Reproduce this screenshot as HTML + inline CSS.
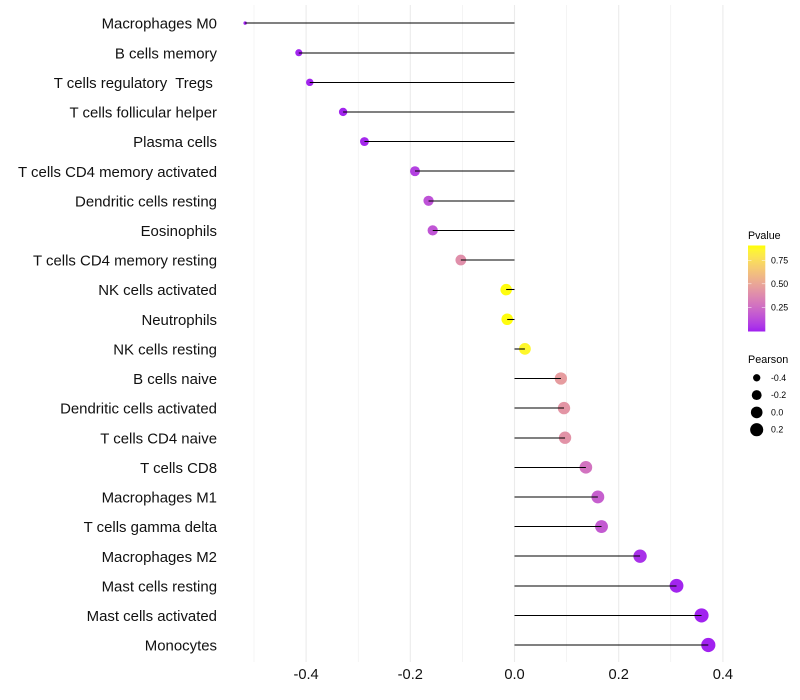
<!DOCTYPE html>
<html>
<head>
<meta charset="utf-8">
<title>Immune cell correlation lollipop chart</title>
<style>
html,body{margin:0;padding:0;background:#fff;}
svg{display:block;font-family:"Liberation Sans",sans-serif;}
text{white-space:pre;}
</style>
</head>
<body>
<svg id="chart" width="800" height="700" viewBox="0 0 800 700" xmlns="http://www.w3.org/2000/svg">
<defs><linearGradient id="pgrad" x1="0" y1="1" x2="0" y2="0"></linearGradient></defs>
<rect width="800" height="700" fill="#fff"></rect>
</svg>
<script>
const categories = ["Macrophages M0","B cells memory","T cells regulatory  Tregs ","T cells follicular helper","Plasma cells","T cells CD4 memory activated","Dendritic cells resting","Eosinophils","T cells CD4 memory resting","NK cells activated","Neutrophils","NK cells resting","B cells naive","Dendritic cells activated","T cells CD4 naive","T cells CD8","Macrophages M1","T cells gamma delta","Macrophages M2","Mast cells resting","Mast cells activated","Monocytes"];
const pearson = [-0.517,-0.414,-0.393,-0.329,-0.288,-0.191,-0.165,-0.157,-0.103,-0.016,-0.014,0.02,0.089,0.095,0.097,0.137,0.16,0.167,0.241,0.311,0.359,0.372];
const pvalue = [0,0.01,0.01,0.01,0.02,0.09,0.15,0.16,0.4,0.9,0.9,0.87,0.46,0.43,0.42,0.28,0.2,0.18,0.04,0.01,0.005,0.005];
const xMajorTicks = [-0.4,-0.2,0,0.2,0.4];
const xMajorLabels = ["-0.4","-0.2","0.0","0.2","0.4"];
const xMinorTicks = [-0.5,-0.3,-0.1,0.1,0.3];
const colorTicks = [0.25,0.5,0.75];
const colorLabels = ["0.25","0.50","0.75"];
const sizeBreaks = [-0.4,-0.2,0,0.2];
const sizeLabels = ["-0.4","-0.2","0.0","0.2"];

const svg = document.getElementById('chart');
const NS = 'http://www.w3.org/2000/svg';
function mk(tag, attrs, parent){
  const el = document.createElementNS(NS, tag);
  for (const k in attrs) el.setAttribute(k, attrs[k]);
  (parent || svg).appendChild(el);
  return el;
}
// axis functions
const xScale = v => 514.5 + v * 521;
const yScale = i => 23.1 + i * 29.615;
// device-style line snapping: stems land on a whole or half pixel
function snapY(y){
  const base = Math.floor(y), frac = y - base;
  if (frac >= 0.25 && frac < 0.68) return base + 0.5;
  return Math.round(y);
}
const pMin = 0, pMax = 0.907;
const colorY = p => 330.8 - (p - pMin) * 94;
const sMin = -0.517, sMax = 0.372;
const sizeScale = v => 1.7 + 5.4 * Math.sqrt(Math.max(0, (v - sMin) / (sMax - sMin)));

// Lab colour interpolation purple -> yellow
function toLab(r,g,b){
  const f = c => { c/=255; return c<=0.04045 ? c/12.92 : Math.pow((c+0.055)/1.055,2.4); };
  const R=f(r),G=f(g),B=f(b);
  const X=(0.4124*R+0.3576*G+0.1805*B)/0.95047, Y=0.2126*R+0.7152*G+0.0722*B, Z=(0.0193*R+0.1192*G+0.9505*B)/1.08883;
  const h = t => t>0.008856 ? Math.cbrt(t) : 7.787*t+16/116;
  return [116*h(Y)-16, 500*(h(X)-h(Y)), 200*(h(Y)-h(Z))];
}
function fromLab(L,a,b){
  const y=(L+16)/116, x=a/500+y, z=y-b/200;
  const h = t => t*t*t>0.008856 ? t*t*t : (t-16/116)/7.787;
  const X=h(x)*0.95047, Y=h(y), Z=h(z)*1.08883;
  const g = c => { c=Math.max(0,Math.min(1,c)); return Math.round(255*(c<=0.0031308?12.92*c:1.055*Math.pow(c,1/2.4)-0.055)); };
  return 'rgb('+g(3.2406*X-1.5372*Y-0.4986*Z)+','+g(-0.9689*X+1.8758*Y+0.0415*Z)+','+g(0.0557*X-0.2040*Y+1.0570*Z)+')';
}
const labLow = toLab(160,32,240), labHigh = toLab(255,255,0);
function colorScale(p){
  const t = Math.max(0, Math.min(1, (p - pMin) / (pMax - pMin)));
  return fromLab(labLow[0]+(labHigh[0]-labLow[0])*t, labLow[1]+(labHigh[1]-labLow[1])*t, labLow[2]+(labHigh[2]-labLow[2])*t);
}

// grid
xMinorTicks.forEach(v => {
  const el = mk('line',{x1:xScale(v),x2:xScale(v),y1:5,y2:662,stroke:'#ebebeb','stroke-width':0.55});
  
  
});
xMajorTicks.forEach(v => {
  const el = mk('line',{x1:xScale(v),x2:xScale(v),y1:5,y2:662,stroke:'#ebebeb','stroke-width':1.07});
  
  
});

// y labels
categories.forEach((c,i) => {
  const el = mk('text',{x:217,y:yScale(i)+5.6,'text-anchor':'end','font-size':14.95,fill:'#111'});
  el.textContent = c;
  
  
});

// x labels
xMajorTicks.forEach((v,i) => {
  const el = mk('text',{x:xScale(v),y:679,'text-anchor':'middle','font-size':14.67,fill:'#111'});
  el.textContent = xMajorLabels[i];
  
  
});

// points, then stems on top
pearson.forEach((v,i) => {
  const el = mk('circle',{cx:xScale(v),cy:yScale(i),r:sizeScale(v),fill:colorScale(pvalue[i])});
  
  
});
pearson.forEach((v,i) => {
  const y = snapY(yScale(i));
  const el = mk('line',{x1:xScale(0),x2:xScale(v),y1:y,y2:y,stroke:'#000','stroke-width':1.07});
  
  
});

// colour legend
const grad = document.getElementById('pgrad');
for (let s = 0; s <= 20; s++){
  const t = s / 20;
  mk('stop',{offset:t,'stop-color':colorScale(pMin + t * (pMax - pMin))},grad);
}
const pTitle = mk('text',{x:748,y:239,'font-size':10.67,fill:'#000'});
pTitle.textContent = 'Pvalue';


const bar = mk('rect',{x:748,y:245.5,width:17.3,height:86,fill:'url(#pgrad)'});


colorTicks.forEach((p,i) => {
  const y = colorY(p);
  const a = mk('line',{x1:748,x2:751.5,y1:y,y2:y,stroke:'#fff','stroke-width':0.55,'stroke-opacity':0.9});
  
  
  const b = mk('line',{x1:761.8,x2:765.3,y1:y,y2:y,stroke:'#fff','stroke-width':0.55,'stroke-opacity':0.9});
  
  
  const t = mk('text',{x:771,y:y+3,'font-size':8.8,fill:'#000'});
  t.textContent = colorLabels[i];
  
  
});

// size legend
const sTitle = mk('text',{x:748,y:363,'font-size':10.8,fill:'#000'});
sTitle.textContent = 'Pearson';


sizeBreaks.forEach((v,i) => {
  const y = 377.8 + i * 17.3;
  const c = mk('circle',{cx:756.7,cy:y,r:sizeScale(v),fill:'#000'});
  
  
  const t = mk('text',{x:771,y:y+3,'font-size':8.8,fill:'#000'});
  t.textContent = sizeLabels[i];
  
  
});
</script>
</body>
</html>
